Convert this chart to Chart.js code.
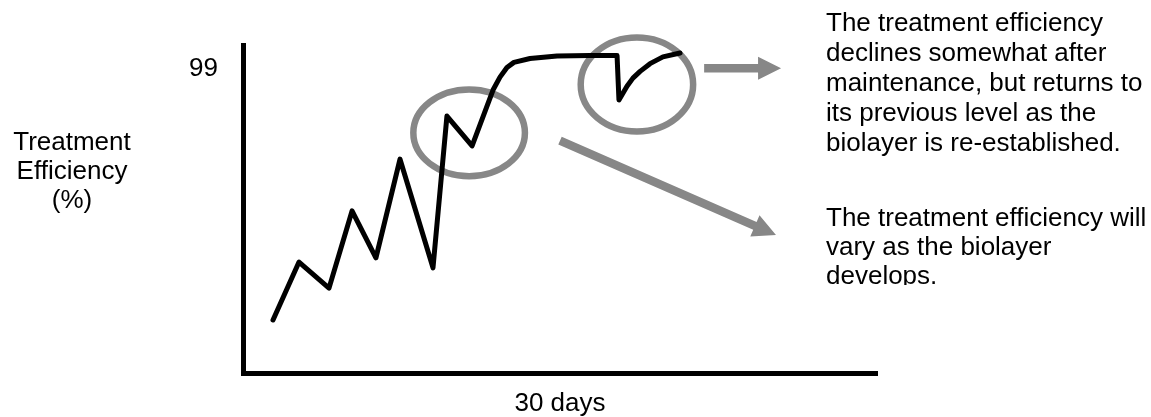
<!DOCTYPE html>
<html>
<head>
<meta charset="utf-8">
<title>Treatment efficiency</title>
<script src="https://cdn.jsdelivr.net/npm/chart.js@4.4.0/dist/chart.umd.min.js"></script>
<style>
  html, body { margin: 0; padding: 0; background: #fff; }
  #wrap { width: 1151px; height: 417px; position: relative; }
</style>
</head>
<body>
<div id="wrap"><canvas id="effChart"></canvas></div>
<script>
// values (x in days, y in % efficiency)
const xDays = [1.42, 2.65, 4.07, 5.16, 6.29, 7.43, 8.99, 9.65, 10.84, 11.83, 12.16, 12.49,
  12.82, 13.58, 14.86, 16.42, 17.70, 17.79, 18.17, 18.45, 18.79, 19.26, 19.87, 20.68];
const efficiency = [16.5, 34.5, 26.4, 50.4, 35.8, 66.5, 32.7, 79.9, 70.6, 88.0, 92.0, 95.0,
  96.6, 97.8, 98.6, 98.7, 98.7, 84.9, 89.2, 91.7, 93.8, 96.2, 98.3, 99.5];
const yTicks = [99];
const xTitle = '30 days';
const yTitle = ['Treatment', 'Efficiency', '(%)'];
const noteTop = ['The treatment efficiency', 'declines somewhat after', 'maintenance, but returns to',
  'its previous level as the', 'biolayer is re-established.'];
const noteBottom = ['The treatment efficiency will', 'vary as the biolayer', 'develops.'];

const FONT = '"Liberation Sans", Arial, sans-serif';
const GREY = '#878787';

function drawArrow(ctx, x1, y1, x2, y2) {
  const ang = Math.atan2(y2 - y1, x2 - x1);
  const len = Math.hypot(x2 - x1, y2 - y1);
  const shaft = 8.5, headLen = 23, headHalf = 11.5;
  ctx.save();
  ctx.translate(x1, y1);
  ctx.rotate(ang);
  ctx.beginPath();
  ctx.moveTo(0, -shaft / 2);
  ctx.lineTo(len - headLen, -shaft / 2);
  ctx.lineTo(len - headLen, -headHalf);
  ctx.lineTo(len, 0);
  ctx.lineTo(len - headLen, headHalf);
  ctx.lineTo(len - headLen, shaft / 2);
  ctx.lineTo(0, shaft / 2);
  ctx.closePath();
  ctx.fill();
  ctx.restore();
}

// circles + arrows are placed in data units, then mapped by the scales
const sketchNotes = {
  id: 'sketchNotes',
  beforeDatasetsDraw(chart) {
    const { ctx, scales: { x, y } } = chart;
    const circles = [
      { x: 10.70, y: 74.7, rx: 2.64, ry: 13.5 },
      { x: 18.64, y: 89.7, rx: 2.66, ry: 14.6 }
    ];
    ctx.save();
    ctx.strokeStyle = GREY;
    ctx.lineWidth = 6.5;
    circles.forEach(c => {
      const cx = x.getPixelForValue(c.x);
      const cy = y.getPixelForValue(c.y);
      const rx = x.getPixelForValue(c.x + c.rx) - cx;
      const ry = cy - y.getPixelForValue(c.y + c.ry);
      ctx.beginPath();
      ctx.ellipse(cx, cy, rx, ry, 0, 0, Math.PI * 2);
      ctx.stroke();
    });
    ctx.restore();
  },
  afterDatasetsDraw(chart) {
    const { ctx, scales: { x, y } } = chart;
    const arrows = [
      [21.82, 94.75, 25.46, 94.75],
      [15.0, 72.24, 25.22, 42.9]
    ];
    ctx.save();
    ctx.fillStyle = GREY;
    arrows.forEach(a => drawArrow(ctx, x.getPixelForValue(a[0]), y.getPixelForValue(a[1]),
      x.getPixelForValue(a[2]), y.getPixelForValue(a[3])));

    ctx.fillStyle = '#000';
    ctx.font = '26px ' + FONT;
    ctx.textBaseline = 'alphabetic';

    // left axis caption, not rotated
    ctx.textAlign = 'center';
    yTitle.forEach((t, i) => ctx.fillText(t, 72, 150 + i * 29));

    ctx.textAlign = 'left';
    noteTop.forEach((t, i) => ctx.fillText(t, 826, 31 + i * 30));

    // lower note is cut off at the bottom like the original text box
    ctx.beginPath();
    ctx.rect(800, 190, 351, 95);
    ctx.clip();
    noteBottom.forEach((t, i) => ctx.fillText(t, 826, 226 + i * 29));
    ctx.restore();
  }
};

const ctx = document.getElementById('effChart').getContext('2d');
new Chart(ctx, {
  type: 'line',
  data: {
    datasets: [{
      data: xDays.map((d, i) => ({ x: d, y: efficiency[i] })),
      borderColor: '#000',
      borderWidth: 5,
      borderJoinStyle: 'round',
      borderCapStyle: 'round',
      tension: 0,
      pointRadius: 0,
      fill: false
    }]
  },
  options: {
    responsive: true,
    maintainAspectRatio: false,
    animation: false,
    layout: { padding: { left: 0, top: 45, right: 274, bottom: 0 } },
    plugins: {
      legend: { display: false },
      tooltip: { enabled: false }
    },
    scales: {
      x: {
        type: 'linear',
        min: 0,
        max: 30,
        grid: { display: false, drawTicks: false },
        border: { display: true, color: '#000', width: 5 },
        ticks: { display: false },
        title: {
          display: true,
          text: xTitle,
          color: '#000',
          padding: 0,
          font: { family: FONT, size: 26, lineHeight: 1 }
        },
        afterFit: s => { s.height = 44; }
      },
      y: {
        type: 'linear',
        min: 0,
        max: 102,
        grid: { display: false, drawTicks: false },
        border: { display: true, color: '#000', width: 5 },
        afterBuildTicks: s => { s.ticks = yTicks.map(v => ({ value: v })); },
        ticks: {
          color: '#000',
          padding: 25,
          labelOffset: 14,
          font: { family: FONT, size: 26 },
          callback: v => String(v)
        },
        afterFit: s => { s.width = 243; }
      }
    }
  },
  plugins: [sketchNotes]
});
</script>
</body>
</html>
